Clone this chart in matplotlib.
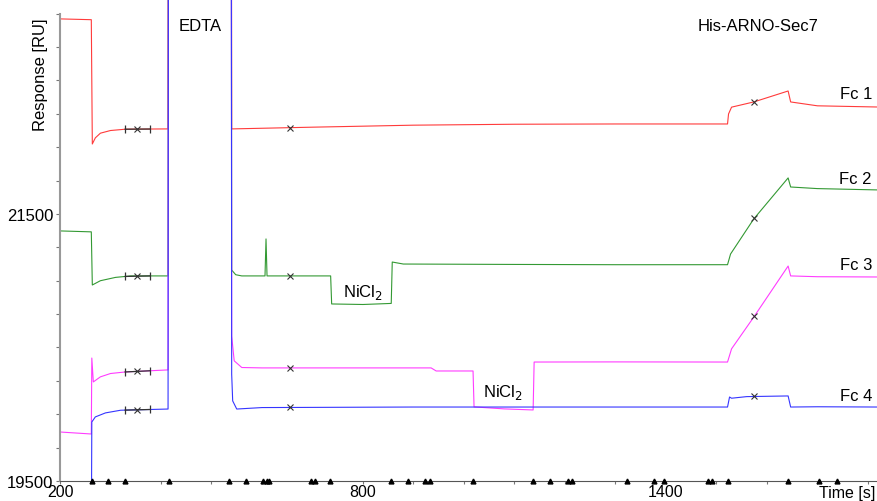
# sensorgram: His-ARNO-Sec7 on four flow cells
import numpy as np
import matplotlib
matplotlib.use("Agg")
from matplotlib import pyplot as plt

plt.rcParams['font.family'] = ['Liberation Sans', 'DejaVu Sans']
plt.rcParams['font.size'] = 12

# data (time [s], response [RU])
HI = 30000  # EDTA pulse runs off scale

fc1_t = [200, 262, 264, 270, 280, 300, 330, 414, 416, 538, 540, 700, 900, 1100, 1300,
         1522, 1524, 1530, 1574, 1642, 1647, 1700, 1820]
fc1_y = [22961, 22955, 22024, 22070, 22105, 22125, 22135, 22137, HI, HI, 22137, 22150,
         22165, 22172, 22174, 22174, 22249, 22300, 22339, 22421, 22339, 22310, 22301]

fc2_t = [200, 262, 264, 280, 310, 340, 414, 416, 538, 540, 548, 560, 606, 608, 610, 736,
         738, 800, 856, 858, 880, 1100, 1300, 1522, 1528, 1574, 1642, 1647, 1700, 1820]
fc2_y = [21373, 21366, 20968, 21000, 21025, 21036, 21036, HI, HI, 21080, 21045, 21036,
         21036, 21313, 21036, 21036, 20826, 20822, 20830, 21140, 21125, 21122, 21120,
         21120, 21200, 21463, 21770, 21702, 21690, 21680]

fc3_t = [200, 262, 263, 266, 280, 300, 330, 414, 416, 538, 540, 545, 560, 600, 935, 945,
         1018, 1020, 1080, 1137, 1139, 1300, 1522, 1530, 1574, 1642, 1647, 1700, 1820]
fc3_y = [19867, 19852, 20421, 20242, 20280, 20305, 20317, 20332, HI, HI, 20586, 20400,
         20350, 20347, 20347, 20324, 20324, 20055, 20040, 20032, 20391, 20392, 20391,
         20490, 20728, 21110, 21036, 21030, 21028]

fc4_t = [262, 263, 270, 290, 320, 414, 416, 538, 540, 542, 550, 600, 900, 1200, 1522,
         1526, 1530, 1560, 1642, 1647, 1700, 1820]
fc4_y = [19000, 19942, 19980, 20010, 20030, 20039, HI, HI, 20300, 20100, 20039, 20050,
         20054, 20054, 20054, 20129, 20120, 20132, 20137, 20054, 20056, 20054]

report_t = [352, 655, 1575]
bracket_t = [329, 378]
inject_t = [263, 295, 329, 416, 535, 568, 602, 610, 614, 697, 705, 735, 855, 889, 923, 933,
            1018, 1137, 1170, 1206, 1214, 1323, 1376, 1396, 1483, 1491, 1523, 1642, 1703, 1739]

series = [
    ("Fc 1", fc1_t, fc1_y, "#ff3b3b", 22399),
    ("Fc 2", fc2_t, fc2_y, "#339933", 21762),
    ("Fc 3", fc3_t, fc3_y, "#ff3cff", 21125),
    ("Fc 4", fc4_t, fc4_y, "#3535ff", 20137),
]


def main():
    fig = plt.figure(figsize=(8.78, 5.02), dpi=100)
    ax = fig.add_axes([60 / 878, 20 / 502, 818 / 878, 482 / 502])

    for name, t, y, col, ylab in series:
        ax.plot(t, y, color=col, lw=0.8)
        # report points
        ry = np.interp(report_t, t, y)
        ax.plot(report_t, ry, 'x', color='#333333', ms=4, mew=0.8, ls='none')
        by = np.interp(bracket_t, t, y)
        ax.plot(bracket_t, by, color='#333333', lw=0.9)
        ax.plot(bracket_t, by, '|', color='#333333', ms=6, mew=0.9)
        ax.text(1808, ylab, name, ha='right', va='center')

    ax.plot(inject_t, [19500] * len(inject_t), '^', color='black', ms=3.5,
            clip_on=False, zorder=5)

    ax.text(434, 22908, "EDTA", ha='left', va='center')
    ax.text(1582, 22908, "His-ARNO-Sec7", ha='center', va='center')
    ax.text(800, 20923, "NiCl$_2$", ha='center', va='center')
    ax.text(1077, 20167, "NiCl$_2$", ha='center', va='center')

    ax.set_xlim(200, 1820)
    ax.set_ylim(19500, 23110)
    ax.set_xticks([200, 800, 1400])
    ax.set_xticks(np.arange(200, 1801, 100), minor=True)
    ax.set_yticks([19500, 21500])
    ax.set_yticks(np.arange(19500, 23001, 250), minor=True)
    ax.tick_params(axis='both', which='both', direction='out', length=3,
                   width=0.8, color='#777777', labelsize=12, pad=2)
    ax.tick_params(axis='x', which='both', length=2, labelsize=11.5, pad=0)

    for s in ['top', 'right']:
        ax.spines[s].set_visible(False)
    ax.spines['left'].set_bounds(19500, 23000)
    ax.spines['left'].set_color('#999999')
    ax.spines['left'].set_linewidth(1.5)
    ax.spines['bottom'].set_color('#555555')

    ax.text(0.997, -0.008, "Time [s]", transform=ax.transAxes, ha='right', va='top',
            fontsize=11.5)
    fig.text(41 / 878, 1 - 75 / 502, "Response [RU]", rotation=90,
             ha='center', va='center')

    fig.savefig("out.png", dpi=100)


if __name__ == "__main__":
    main()
